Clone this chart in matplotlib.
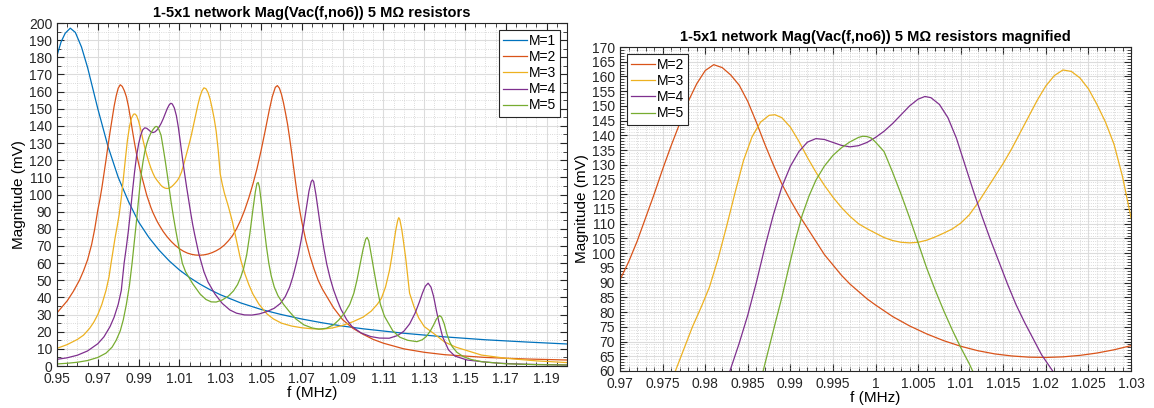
import numpy as np
import matplotlib
matplotlib.use("Agg")
import matplotlib.pyplot as plt
from matplotlib.ticker import MultipleLocator, FixedLocator, FuncFormatter

plt.rcParams['font.family'] = ['Liberation Sans', 'DejaVu Sans']

# values (f in MHz, magnitude in mV)
f_m1 = [0.950, 0.952, 0.954, 0.9565, 0.959, 0.962, 0.965, 0.9675, 0.970, 0.9725, 0.975,
        0.9775, 0.980, 0.985, 0.990, 0.995, 1.000, 1.005, 1.010, 1.015, 1.020, 1.025,
        1.030, 1.040, 1.050, 1.060, 1.070, 1.080, 1.090, 1.100, 1.120, 1.140, 1.160,
        1.180, 1.200]
v_m1 = [181, 189, 194, 197, 194.5, 186, 174, 162, 150, 139, 128,
        119, 110, 96, 84, 75, 67.6, 61.3, 56, 51.6, 47.8, 44.5,
        41.6, 36.8, 33, 30, 27.4, 25.2, 23.3, 21.7, 19.1, 17.0, 15.3,
        14.0, 12.85]

f_m2 = [0.950, 0.955, 0.958, 0.961, 0.963, 0.965, 0.967, 0.9685, 0.970, 0.971, 0.972,
        0.973, 0.974, 0.975, 0.976, 0.977, 0.978, 0.979, 0.980, 0.981, 0.982,
        0.983, 0.984, 0.985, 0.986, 0.987, 0.988, 0.989, 0.990, 0.991, 0.992,
        0.993, 0.994, 0.995, 0.996, 0.997, 0.998, 0.999, 1.000, 1.002, 1.004,
        1.006, 1.008, 1.010, 1.012, 1.014, 1.016, 1.018, 1.020, 1.022, 1.024,
        1.026, 1.028, 1.030, 1.032, 1.034, 1.036, 1.038, 1.040, 1.042, 1.044,
        1.046, 1.048, 1.050, 1.052, 1.054, 1.0555, 1.057, 1.058, 1.059, 1.060,
        1.061, 1.062, 1.063, 1.064, 1.065, 1.066, 1.067, 1.068, 1.069, 1.070,
        1.072, 1.074, 1.076, 1.078, 1.080, 1.083, 1.0855, 1.090, 1.095, 1.100,
        1.105, 1.110, 1.120, 1.130, 1.140, 1.160, 1.180, 1.200]
v_m2 = [31, 38, 43.5, 50, 55.5, 62, 71, 80, 91, 97, 104,
        112, 120, 128.5, 136.5, 144, 151.5, 157.5, 162, 164, 163,
        160.5, 157, 151.5, 144.5, 137, 130, 123.5, 118, 113, 108.5,
        104, 99.5, 96, 92.5, 89.5, 87, 84.5, 82.4, 78.5, 75.3,
        72.6, 70.3, 68.4, 66.9, 65.8, 65.1, 64.7, 64.6, 64.8, 65.3,
        66.1, 67.2, 68.6, 70.5, 73, 76, 80, 85, 91, 98,
        106, 115, 125.5, 137, 149, 157, 162.5, 163.5, 162, 158.5,
        153.5, 147.5, 141, 133, 124.5, 115.5, 106.5, 98, 90.5, 84,
        73, 64, 56.5, 50, 45, 39, 34, 27, 22, 18.5,
        15.5, 13.3, 10, 8, 6.6, 5, 4.1, 3.5]

f_m3 = [0.950, 0.955, 0.960, 0.963, 0.966, 0.968, 0.970, 0.972, 0.974, 0.9755, 0.9765,
        0.9775, 0.9785, 0.9795, 0.9805, 0.9815, 0.9825, 0.9835, 0.9845, 0.9855, 0.9865,
        0.9875, 0.9882, 0.989, 0.990, 0.991, 0.992, 0.993, 0.994, 0.995, 0.996,
        0.997, 0.998, 0.999, 1.000, 1.001, 1.002, 1.003, 1.004, 1.005, 1.006,
        1.007, 1.008, 1.009, 1.010, 1.011, 1.012, 1.013, 1.014, 1.015, 1.016,
        1.017, 1.018, 1.019, 1.020, 1.021, 1.022, 1.023, 1.024, 1.025, 1.026,
        1.027, 1.028, 1.029, 1.030, 1.031, 1.032, 1.034, 1.036, 1.038, 1.040,
        1.042, 1.044, 1.046, 1.049, 1.0528, 1.056, 1.060, 1.065, 1.070, 1.075,
        1.080, 1.085, 1.090, 1.095, 1.100, 1.104, 1.107, 1.109, 1.111, 1.113,
        1.114, 1.115, 1.116, 1.117, 1.1175, 1.118, 1.119, 1.120, 1.121, 1.1228,
        1.125, 1.1273, 1.130, 1.1346, 1.140, 1.1455, 1.158, 1.170, 1.185, 1.200]
v_m3 = [10.3, 12.5, 15.5, 18, 22, 25.5, 30, 36, 44, 52, 60,
        67.5, 75, 81.5, 88.5, 98, 109, 120.5, 131.5, 139.5, 144.5,
        146.8, 147, 146, 142.8, 138, 132.5, 127.5, 123, 119, 115.5,
        112.5, 110, 108.3, 106.8, 105.3, 104.3, 103.7, 103.5, 103.7, 104.4,
        105.5, 106.8, 108.2, 110.2, 113, 117, 121.5, 126, 130.5, 135.5,
        141, 146.5, 152, 156.8, 160.3, 162.2, 161.7, 159.5, 155.8, 150.5,
        144.5, 137, 126, 112, 106, 101, 93, 84, 73, 62,
        54, 47.5, 42, 36, 30.5, 27.5, 25, 23.3, 22.3, 21.7,
        21.5, 22.2, 23.7, 25.8, 28.5, 32, 36, 39.5, 46, 56,
        63, 71, 79, 85, 86.5, 85.5, 79.5, 71, 62, 42.5,
        34.5, 28, 23, 19, 14, 11, 6.4, 4.5, 3, 2]

f_m4 = [0.950, 0.955, 0.960, 0.965, 0.970, 0.973, 0.976, 0.978, 0.980, 0.9815, 0.9829,
        0.984, 0.985, 0.986, 0.987, 0.988, 0.989, 0.990, 0.991, 0.992, 0.993,
        0.994, 0.995, 0.996, 0.997, 0.998, 0.999, 1.000, 1.001, 1.002, 1.003,
        1.004, 1.005, 1.0058, 1.0065, 1.0075, 1.0085, 1.0095, 1.0105, 1.0115, 1.0125,
        1.0135, 1.0145, 1.0155, 1.0165, 1.0175, 1.0185, 1.0195, 1.0208, 1.022, 1.024,
        1.0274, 1.031, 1.0347, 1.038, 1.0419, 1.0455, 1.0492, 1.053, 1.0565, 1.0595,
        1.0619, 1.064, 1.0656, 1.067, 1.0683, 1.0696, 1.0709, 1.0722, 1.0735, 1.0746,
        1.0752, 1.0758, 1.0769, 1.0782, 1.0795, 1.0808, 1.0822, 1.0838, 1.0855, 1.0875,
        1.0892, 1.092, 1.0946, 1.099, 1.1037, 1.108, 1.1128, 1.117, 1.120, 1.1228,
        1.1255, 1.1275, 1.1291, 1.1305, 1.1319, 1.1333, 1.1346, 1.136, 1.1373, 1.139,
        1.1419, 1.145, 1.151, 1.160, 1.1673, 1.180, 1.200]
v_m4 = [3.9, 4.8, 6.3, 8.8, 13, 17, 23, 28.5, 36, 44, 60,
        69.5, 79, 90, 102, 113, 122.5, 129.5, 134.5, 137.7, 138.9,
        138.6, 137.6, 136.6, 136.1, 136.5, 137.6, 139.3, 141.4, 144, 147,
        150, 152.3, 153.2, 152.8, 150.5, 146, 139, 130, 121, 112.5,
        104.5, 97, 89.5, 82.5, 76.5, 71, 65.5, 60, 55, 49,
        42, 36.5, 32.7, 30.8, 29.8, 29.7, 30.4, 31.8, 33.7, 36.5,
        40.5, 46, 52, 58.5, 65, 73, 82, 92, 102, 107.5,
        108.5, 107.5, 100, 89, 78, 68.5, 59.5, 51.5, 44.5, 38,
        33, 27, 23, 19.3, 17.2, 16.3, 16.2, 17.8, 20.3, 24.5,
        30.8, 37, 42.5, 46.5, 48.3, 46, 40.5, 32, 25, 17,
        9.4, 5.8, 3.5, 2.3, 1.6, 1, 0.6]

f_m5 = [0.950, 0.955, 0.960, 0.965, 0.970, 0.974, 0.977, 0.979, 0.981, 0.9825, 0.984,
        0.9855, 0.9868, 0.9875, 0.9882, 0.989, 0.9898, 0.9906, 0.9914, 0.9922, 0.993,
        0.994, 0.995, 0.996, 0.997, 0.998, 0.9985, 0.999, 0.9995, 1.000, 1.001,
        1.002, 1.003, 1.004, 1.005, 1.006, 1.007, 1.008, 1.009, 1.010, 1.011,
        1.0114, 1.013, 1.0165, 1.0201, 1.023, 1.0256, 1.028, 1.031, 1.034, 1.0365,
        1.0385, 1.0401, 1.0415, 1.043, 1.0445, 1.046, 1.0472, 1.048, 1.0486, 1.0492,
        1.0502, 1.0514, 1.0526, 1.0538, 1.055, 1.0565, 1.0583, 1.061, 1.0637, 1.067,
        1.071, 1.075, 1.0783, 1.082, 1.0855, 1.088, 1.091, 1.0935, 1.0955, 1.097,
        1.0985, 1.100, 1.1013, 1.102, 1.1028, 1.104, 1.1053, 1.1068, 1.1085, 1.1105,
        1.1146, 1.118, 1.1219, 1.1264, 1.129, 1.131, 1.133, 1.1346, 1.136, 1.1375,
        1.1385, 1.1398, 1.141, 1.1425, 1.1437, 1.146, 1.1491, 1.153, 1.1582, 1.170,
        1.185, 1.200]
v_m5 = [1.2, 1.6, 2.2, 3.2, 5, 7.5, 11, 15, 20.5, 27, 36,
        47, 60, 68, 76, 85, 95, 104.5, 113, 119.5, 124.8,
        129.6, 133.2, 135.8, 137.8, 139.3, 139.7, 139.6, 139.1, 137.7, 134.5,
        127.5, 120, 112, 103.5, 95, 87.5, 80.5, 74, 68, 62.5,
        60, 55, 48, 42, 38.8, 37.4, 37.3, 38.5, 40.8, 43.8,
        47.5, 52, 57, 65, 77, 91, 101.5, 106.5, 107, 104.5,
        95, 82, 70, 60, 52.5, 46, 41, 36, 32, 27.5,
        24, 22.2, 21.5, 22, 24, 26.7, 31, 36, 42.5, 50,
        59, 68, 74, 75, 73, 65, 56, 46, 36, 29,
        20.5, 16.8, 15, 14.2, 15.3, 17.2, 20.5, 24, 27.5, 29.4,
        28.5, 24.5, 19, 14, 11.3, 8, 5.5, 3.8, 2.5, 1.3,
        0.8, 0.6]

labels = ['M=1', 'M=2', 'M=3', 'M=4', 'M=5']
colors = ['#0072BD', '#D95319', '#EDB120', '#7E2F8E', '#77AC30']
series = [(f_m1, v_m1), (f_m2, v_m2), (f_m3, v_m3), (f_m4, v_m4), (f_m5, v_m5)]
left_xticks = [0.95, 0.97, 0.99, 1.01, 1.03, 1.05, 1.07, 1.09, 1.11, 1.13, 1.15, 1.17, 1.19]
title = '1-5x1 network Mag(Vac(f,no6)) 5 M\u03a9 resistors'


def style_axes(ax):
  ax.grid(True, which='major', color='#dcdcdc', linewidth=0.8)
  ax.grid(True, which='minor', color='#cfcfcf', linestyle=':', linewidth=0.6)
  ax.set_axisbelow(True)
  ax.tick_params(which='both', direction='in', top=True, right=True, labelsize=10, colors='#262626')
  ax.tick_params(which='major', length=5, width=0.8)
  ax.tick_params(which='minor', length=3, width=0.6)
  ax.tick_params(axis='x', which='major', pad=4.5)
  for s in ax.spines.values():
    s.set_color('#262626')
    s.set_linewidth(0.8)


def add_legend(ax, loc):
  leg = ax.legend(loc=loc, fontsize=10, fancybox=False, framealpha=1, edgecolor='#262626',
                  handlelength=1.7, handletextpad=0.15, labelspacing=0.15, borderpad=0.3,
                  borderaxespad=0.5)
  leg.get_frame().set_linewidth(0.8)


fig = plt.figure(figsize=(11.54, 4.08), dpi=100)

# left: full sweep
ax1 = fig.add_axes([0.0494, 0.1029, 0.4420, 0.8407])
for (f, v), lab, c in zip(series, labels, colors):
  ax1.plot(f, v, color=c, lw=0.9, label=lab)
ax1.set_xlim(0.95, 1.20)
ax1.set_ylim(0, 200)
ax1.xaxis.set_major_locator(FixedLocator(left_xticks))
ax1.xaxis.set_minor_locator(MultipleLocator(0.005))
ax1.yaxis.set_major_locator(MultipleLocator(10))
ax1.yaxis.set_minor_locator(MultipleLocator(5))
ax1.xaxis.set_major_formatter(FuncFormatter(lambda x, p: '%.2f' % x))
style_axes(ax1)
ax1.set_xlabel('f (MHz)', fontsize=11, labelpad=0)
ax1.set_ylabel('Magnitude (mV)', fontsize=11, labelpad=2)
ax1.set_title(title, fontsize=10.5, fontweight='bold', pad=4)
add_legend(ax1, 'upper right')

# right: magnified
ax2 = fig.add_axes([0.5373, 0.0907, 0.4428, 0.7941])
for (f, v), lab, c in list(zip(series, labels, colors))[1:]:
  ax2.plot(f, v, color=c, lw=0.9, label=lab)
ax2.set_xlim(0.97, 1.03)
ax2.set_ylim(60, 170)
ax2.xaxis.set_major_locator(MultipleLocator(0.005))
ax2.xaxis.set_minor_locator(MultipleLocator(0.001))
ax2.yaxis.set_major_locator(MultipleLocator(5))
ax2.yaxis.set_minor_locator(MultipleLocator(1))
ax2.xaxis.set_major_formatter(FuncFormatter(lambda x, p: ('%.3f' % x).rstrip('0').rstrip('.')))
style_axes(ax2)
ax2.set_xlabel('f (MHz)', fontsize=11, labelpad=0)
ax2.set_ylabel('Magnitude (mV)', fontsize=11, labelpad=2)
ax2.set_title(title + ' magnified', fontsize=10.5, fontweight='bold', pad=4)
add_legend(ax2, 'upper left')

fig.savefig('out.png', dpi=100)
